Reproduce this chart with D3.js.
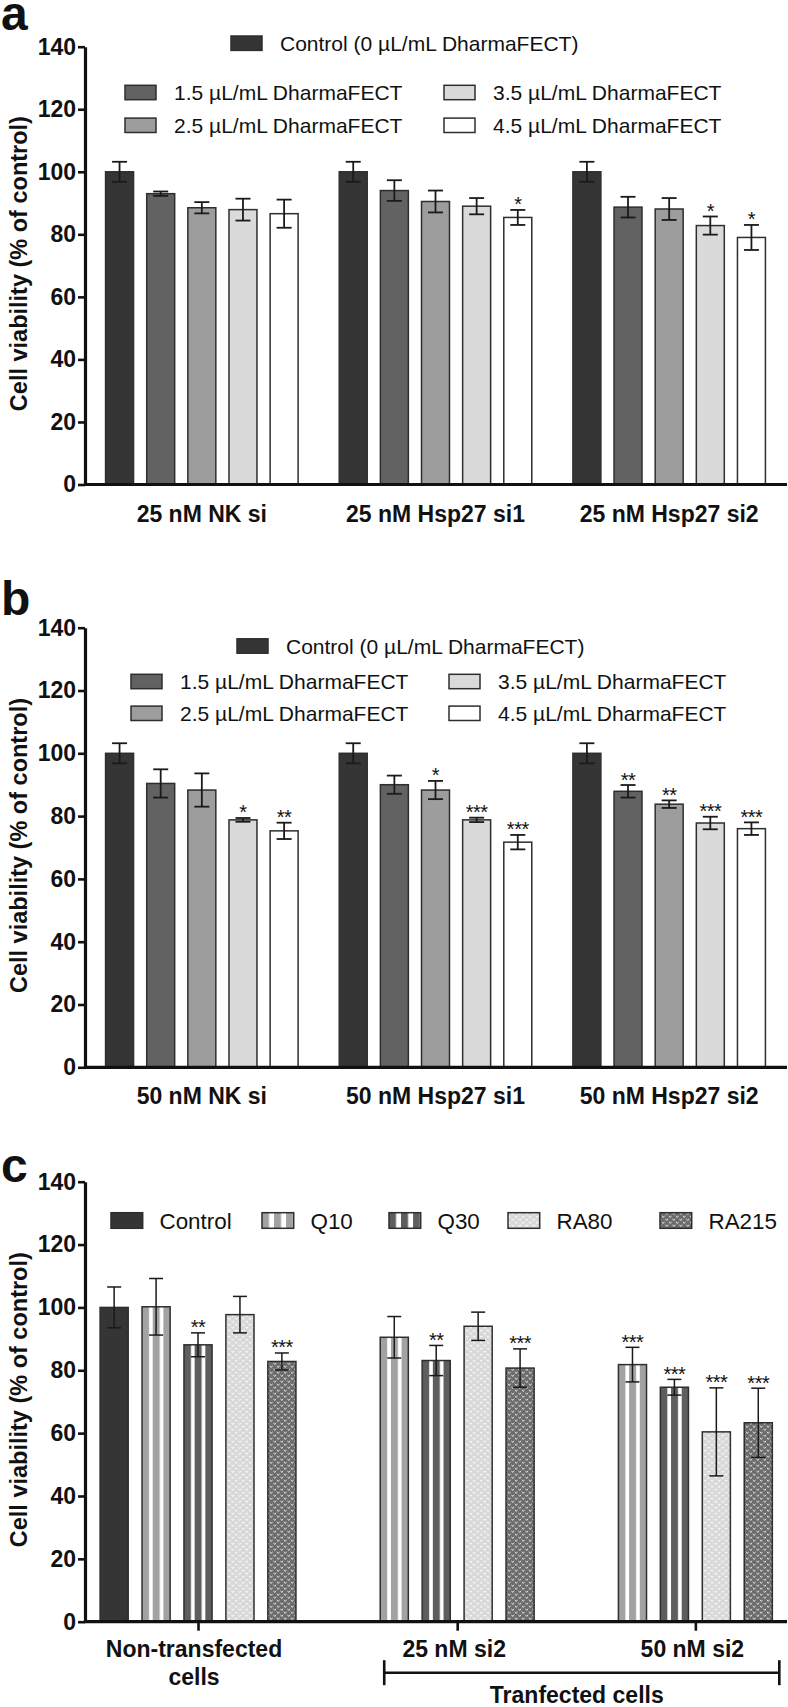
<!DOCTYPE html>
<html><head><meta charset="utf-8">
<script src="https://cdn.jsdelivr.net/npm/d3@7/dist/d3.min.js"></script>
<style>
body{margin:0;background:#fff}
svg{display:block}
text{font-family:"Liberation Sans",Arial,Helvetica,sans-serif;fill:#111}
</style>
</head><body><script>
// ---------------- DATA ----------------
const doseSeries = ["Control (0 µL/mL DharmaFECT)", "1.5 µL/mL DharmaFECT", "2.5 µL/mL DharmaFECT", "3.5 µL/mL DharmaFECT", "4.5 µL/mL DharmaFECT"];

const panelACategories = ["25 nM NK si", "25 nM Hsp27 si1", "25 nM Hsp27 si2"];
const panelAMeans = [[100, 93.0, 88.5, 87.9, 86.6], [100, 94.0, 90.5, 89.0, 85.4], [100, 88.7, 88.1, 82.8, 79.0]];
const panelASD    = [[3.2, 0.7, 1.8, 3.5, 4.5], [3.2, 3.3, 3.5, 2.6, 2.4], [3.2, 3.3, 3.5, 2.9, 4.0]];
const panelASig   = [["", "", "", "", ""], ["", "", "", "", "*"], ["", "", "", "*", "*"]];

const panelBCategories = ["50 nM NK si", "50 nM Hsp27 si1", "50 nM Hsp27 si2"];
const panelBMeans = [[100, 90.4, 88.3, 78.8, 75.3], [100, 90.0, 88.3, 78.8, 71.7], [100, 87.9, 83.8, 77.8, 76.0]];
const panelBSD    = [[3.2, 4.5, 5.3, 0.6, 2.6], [3.2, 2.9, 2.9, 0.7, 2.3], [3.2, 2.0, 1.2, 2.0, 2.0]];
const panelBSig   = [["", "", "", "*", "**"], ["", "", "*", "***", "***"], ["", "**", "**", "***", "***"]];

const treatSeries = ["Control", "Q10", "Q30", "RA80", "RA215"];
const panelCCategories = ["Non-transfected cells", "25 nM si2", "50 nM si2"];
const panelCMeans = [[100, 100.2, 88.1, 97.7, 82.8], [null, 90.5, 83.1, 94.0, 80.7], [null, 81.8, 74.6, 60.4, 63.3]];
const panelCSD    = [[6.5, 9.0, 3.8, 5.8, 2.7], [null, 6.6, 4.8, 4.5, 6.1], [null, 5.5, 2.5, 14.0, 11.0]];
const panelCSig   = [["", "", "**", "", "***"], ["", "", "**", "", "***"], ["", "***", "***", "***", "***"]];
const panelCBracketLabel = "Tranfected cells";

const yTicks = [0, 20, 40, 60, 80, 100, 120, 140];
const yMinorTicks = [10, 30, 50, 70, 90, 110, 130];
const yTitle = "Cell viability (% of control)";

// ---------------- STYLE / LAYOUT ----------------
const W = 788, H = 1707;
const doseColors = ["#353535", "#626262", "#9d9d9d", "#dadada", "#ffffff"];
const FONT_TICK = 23, FONT_CAT = 23, FONT_LEG = 21, FONT_STAR = 20;

const svg = d3.select("body").append("svg").attr("width", W).attr("height", H);
const defs = svg.append("defs");

function stripePattern(id, color) {
  const p = defs.append("pattern").attr("id", id)
    .attr("patternUnits", "objectBoundingBox").attr("width", 0.38).attr("height", 1);
  p.append("rect").attr("width", 20).attr("height", 3000).attr("fill", "#fff");
  p.append("rect").attr("width", 7).attr("height", 3000).attr("fill", color);
}
function dotPattern(id, base, mark) {
  const p = defs.append("pattern").attr("id", id)
    .attr("patternUnits", "userSpaceOnUse").attr("width", 7).attr("height", 6);
  p.append("rect").attr("width", 7).attr("height", 6).attr("fill", base);
  [[1.75, 1.6], [5.25, 4.6]].forEach(([x, y]) =>
    p.append("path").attr("d", `M${x - 1.3},${y - 0.9}L${x},${y + 0.9}L${x + 1.3},${y - 0.9}`)
      .attr("fill", "none").attr("stroke", mark).attr("stroke-width", 0.9));
}
stripePattern("pQ10", "#a2a2a2");
stripePattern("pQ30", "#5e5e5e");
dotPattern("pRA80", "#d8d8d8", "#ffffff");
dotPattern("pRA215", "#6c6c6c", "#e6e6e6");
const treatFills = ["#353535", "url(#pQ10)", "url(#pQ30)", "url(#pRA80)", "url(#pRA215)"];

function drawYAxis(y) {
  const g = svg.append("g").attr("transform", "translate(85,0)");
  g.call(d3.axisLeft(y).tickValues(yMinorTicks).tickSize(4).tickFormat("").tickSizeOuter(0));
  g.call(d3.axisLeft(y).tickValues(yTicks).tickSize(7).tickPadding(2).tickSizeOuter(0));
  g.selectAll("path.domain").attr("stroke", "#111").attr("stroke-width", 3.2);
  g.selectAll(".tick line").attr("stroke", "#111").attr("stroke-width", 2.6);
  g.selectAll(".tick text").attr("font-size", FONT_TICK).attr("font-weight", "bold")
    .attr("font-family", "'Liberation Sans',Arial,sans-serif").attr("fill", "#111");
  const mid = (y.range()[0] + y.range()[1]) / 2;
  svg.append("text").attr("transform", `translate(19,${mid - 2}) rotate(-90)`)
    .attr("text-anchor", "middle").attr("dy", "0.36em")
    .attr("font-size", 23.5).attr("font-weight", "bold").text(yTitle);
}

function drawXLine(y) {
  svg.append("line").attr("x1", 84).attr("x2", 787).attr("y1", y(0)).attr("y2", y(0))
    .attr("stroke", "#111").attr("stroke-width", 3.2);
}

function drawErr(g, cx, y, m, sd, star, capW, sw) {
  const t = y(m + sd), b = y(m - sd);
  g.append("line").attr("x1", cx).attr("x2", cx).attr("y1", t).attr("y2", b).attr("stroke", "#1a1a1a").attr("stroke-width", sw);
  g.append("line").attr("x1", cx - capW / 2).attr("x2", cx + capW / 2).attr("y1", t).attr("y2", t).attr("stroke", "#1a1a1a").attr("stroke-width", sw);
  g.append("line").attr("x1", cx - capW / 2).attr("x2", cx + capW / 2).attr("y1", b).attr("y2", b).attr("stroke", "#1a1a1a").attr("stroke-width", sw);
  if (star) {
    g.append("text").attr("x", cx).attr("y", t + 1.5).attr("text-anchor", "middle")
      .attr("font-size", FONT_STAR).attr("letter-spacing", "-0.5").text(star);
  }
}

function panelDose(letter, letterY, cats, means, sds, sigs, yTop, yBottom, leg) {
  const y = d3.scaleLinear().domain([0, 140]).range([yBottom, yTop]);
  const x0 = d3.scaleBand().domain(cats).range([85, 786]).padding(0);
  const x1 = d3.scaleBand().domain(doseSeries).range([0, x0.bandwidth()]).paddingInner(0.32).paddingOuter(0.5);

  svg.append("text").attr("x", 1).attr("y", letterY).attr("font-size", 48).attr("font-weight", "bold").text(letter);

  const g = svg.append("g");
  cats.forEach((c, i) => {
    doseSeries.forEach((s, j) => {
      const bx = x0(c) + x1(s);
      g.append("rect").attr("x", bx).attr("y", y(means[i][j])).attr("width", x1.bandwidth())
        .attr("height", y(0) - y(means[i][j])).attr("fill", doseColors[j])
        .attr("stroke", "#2e2e2e").attr("stroke-width", 1.5);
    });
  });
  cats.forEach((c, i) => {
    doseSeries.forEach((s, j) => {
      const cx = x0(c) + x1(s) + x1.bandwidth() / 2;
      drawErr(g, cx, y, means[i][j], sds[i][j], sigs[i][j], 15, 1.8);
    });
  });
  drawXLine(y);
  drawYAxis(y);
  cats.forEach(c => {
    svg.append("text").attr("x", x0(c) + x0.bandwidth() / 2).attr("y", y(0) + 37)
      .attr("text-anchor", "middle").attr("font-size", FONT_CAT).attr("font-weight", "bold").text(c);
  });
  // legend
  const items = [
    {s: 0, x: leg.cx, y: leg.r1},
    {s: 1, x: leg.c1, y: leg.r2}, {s: 2, x: leg.c1, y: leg.r3},
    {s: 3, x: leg.c2, y: leg.r2}, {s: 4, x: leg.c2, y: leg.r3}
  ];
  items.forEach(it => {
    svg.append("rect").attr("x", it.x).attr("y", it.y - 7.2).attr("width", 31).attr("height", 14.4)
      .attr("fill", doseColors[it.s]).attr("stroke", "#2e2e2e").attr("stroke-width", 1.5);
    svg.append("text").attr("x", it.x + 49).attr("y", it.y + 7.6).attr("font-size", FONT_LEG)
      .attr("fill", "#1a1a1a").text(doseSeries[it.s]);
  });
}

panelDose("a", 30, panelACategories, panelAMeans, panelASD, panelASig, 46.7, 484.5,
  {cx: 231, c1: 125, c2: 444, r1: 43.2, r2: 92.5, r3: 125.3});
panelDose("b", 615, panelBCategories, panelBMeans, panelBSD, panelBSig, 627.7, 1067.3,
  {cx: 237, c1: 131, c2: 449, r1: 646, r2: 681.5, r3: 713.3});

// ---------------- PANEL C ----------------
(function () {
  const yTop = 1181.7, yBottom = 1621.7;
  const y = d3.scaleLinear().domain([0, 140]).range([yBottom, yTop]);
  const barFrac = 0.67, groupGap = 1.68;
  const slots = [];
  let pos = 0;
  const groupExtent = [];
  panelCCategories.forEach((c, i) => {
    const start = pos;
    treatSeries.forEach((s, j) => {
      if (panelCMeans[i][j] != null) { slots.push({i, j, pos}); pos += 1; }
    });
    groupExtent.push([start, pos - 1 + barFrac]);
    pos += groupGap;
  });
  const lastPos = pos - groupGap - 1 + barFrac;
  const x = d3.scaleLinear().domain([-0.36, lastPos + 0.35]).range([85, 787]);
  const bw = x(barFrac) - x(0);

  svg.append("text").attr("x", 1).attr("y", 1181.7).attr("font-size", 48).attr("font-weight", "bold").text("c");

  const g = svg.append("g");
  slots.forEach(d => {
    const m = panelCMeans[d.i][d.j];
    g.append("rect").attr("x", x(d.pos)).attr("y", y(m)).attr("width", bw).attr("height", y(0) - y(m))
      .attr("fill", treatFills[d.j]).attr("stroke", "#2e2e2e").attr("stroke-width", 1.5);
  });
  slots.forEach(d => {
    drawErr(g, x(d.pos) + bw / 2, y, panelCMeans[d.i][d.j], panelCSD[d.i][d.j], panelCSig[d.i][d.j], 14, 1.5);
  });
  drawXLine(y);
  drawYAxis(y);

  const centers = groupExtent.map(e => (e[0] + e[1]) / 2);
  const xa = svg.append("g").attr("transform", `translate(0,${y(0)})`)
    .call(d3.axisBottom(x).tickValues(centers).tickSize(9).tickFormat("").tickSizeOuter(0));
  xa.select("path.domain").remove();
  xa.selectAll(".tick line").attr("stroke", "#111").attr("stroke-width", 2.6);

  panelCCategories.forEach((c, i) => {
    const t = svg.append("text").attr("x", x(centers[i]) - (i === 0 ? 4 : 3)).attr("y", y(0) + 35)
      .attr("text-anchor", "middle").attr("font-size", FONT_CAT).attr("font-weight", "bold");
    if (i === 0) {
      t.append("tspan").attr("x", x(centers[i]) - 4).text("Non-transfected");
      t.append("tspan").attr("x", x(centers[i]) - 4).attr("dy", 28.7).text("cells");
    } else {
      t.text(c);
    }
  });
  const bx1 = x(groupExtent[1][0]) + 4, bx2 = x(groupExtent[2][1]) + 7, by = y(0) + 51;
  const br = svg.append("g").attr("stroke", "#111").attr("stroke-width", 2.6);
  br.append("line").attr("x1", bx1).attr("x2", bx2).attr("y1", by).attr("y2", by);
  br.append("line").attr("x1", bx1).attr("x2", bx1).attr("y1", by - 12.5).attr("y2", by + 12.5);
  br.append("line").attr("x1", bx2).attr("x2", bx2).attr("y1", by - 12.5).attr("y2", by + 12.5);
  svg.append("text").attr("x", (bx1 + bx2) / 2 - 5).attr("y", 1703).attr("text-anchor", "middle")
    .attr("font-size", FONT_CAT).attr("font-weight", "bold").text(panelCBracketLabel);

  const legX = [111, 262, 389, 508, 660], legY = 1220.5;
  treatSeries.forEach((s, j) => {
    svg.append("rect").attr("x", legX[j]).attr("y", legY - 7.8).attr("width", 31.7).attr("height", 15.6)
      .attr("fill", treatFills[j]).attr("stroke", "#2e2e2e").attr("stroke-width", 1.5);
    svg.append("text").attr("x", legX[j] + 48.5).attr("y", legY + 8).attr("font-size", 22.4)
      .attr("fill", "#1a1a1a").text(s);
  });
})();
</script></body></html>
